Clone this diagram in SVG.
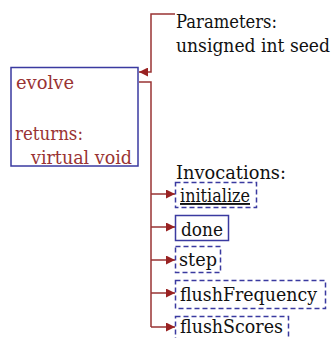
<svg xmlns="http://www.w3.org/2000/svg" width="336" height="338" viewBox="0 0 336 338">
  <style>
    text { font-family: "DejaVu Serif", "Liberation Serif", serif; font-size: 19px; fill: #111; }
    .red { fill: #993333; }
    .box { fill: none; stroke: #3a3aa0; stroke-width: 1.5; }
    .dash { stroke-dasharray: 5 3; }
    .wire { fill: none; stroke: #993333; stroke-width: 1.5; }
  </style>
  <defs>
    <marker id="arrow" viewBox="0 0 10 10" refX="10" refY="5" markerWidth="9" markerHeight="9" markerUnits="userSpaceOnUse" orient="auto">
      <path d="M0,0 L10,5 L0,10 Z" fill="#992222"/>
    </marker>
  </defs>

  <rect width="336" height="338" fill="#ffffff"/>

  <g id="connectors">
    <!-- parameter feed into the function -->
    <path class="wire" d="M175,14 H151 V72 H139" marker-end="url(#arrow)"/>
    <!-- invocation trunk -->
    <path class="wire" d="M139,82 H151 V327"/>
    <path class="wire" d="M151,194 H175" marker-end="url(#arrow)"/>
    <path class="wire" d="M151,227 H175" marker-end="url(#arrow)"/>
    <path class="wire" d="M151,260 H175" marker-end="url(#arrow)"/>
    <path class="wire" d="M151,293 H175" marker-end="url(#arrow)"/>
    <path class="wire" d="M151,327 H175" marker-end="url(#arrow)"/>
  </g>

  <g id="parameters">
    <text x="176" y="27.5" textLength="101" lengthAdjust="spacingAndGlyphs">Parameters:</text>
    <text x="176" y="51.5" textLength="154" lengthAdjust="spacingAndGlyphs">unsigned int seed</text>
  </g>

  <g id="evolve">
    <rect class="box" x="11" y="67.5" width="127" height="98.5"/>
    <text class="red" x="16" y="89" textLength="58" lengthAdjust="spacingAndGlyphs">evolve</text>
    <text class="red" x="15" y="140" textLength="68" lengthAdjust="spacingAndGlyphs">returns:</text>
    <text class="red" x="31" y="164" textLength="101" lengthAdjust="spacingAndGlyphs">virtual void</text>
  </g>

  <g id="invocations">
    <text x="176" y="179" textLength="110" lengthAdjust="spacingAndGlyphs">Invocations:</text>
  </g>

  <g id="initialize">
    <rect class="box dash" x="175.5" y="182.5" width="81" height="25"/>
    <text x="180" y="202" textLength="70" lengthAdjust="spacingAndGlyphs" text-decoration="underline">initialize</text>
  </g>

  <g id="done">
    <rect class="box" x="175.5" y="215.5" width="53" height="25"/>
    <text x="181" y="236" textLength="42" lengthAdjust="spacingAndGlyphs">done</text>
  </g>

  <g id="step">
    <rect class="box dash" x="175.5" y="246.5" width="45" height="26"/>
    <text x="179" y="266" textLength="38" lengthAdjust="spacingAndGlyphs">step</text>
  </g>

  <g id="flushFrequency">
    <rect class="box dash" x="175.5" y="280.5" width="150" height="28"/>
    <text x="180" y="301" textLength="137" lengthAdjust="spacingAndGlyphs">flushFrequency</text>
  </g>

  <g id="flushScores">
    <rect class="box dash" x="175.5" y="316.5" width="113" height="28"/>
    <text x="180" y="333" textLength="103" lengthAdjust="spacingAndGlyphs">flushScores</text>
  </g>
</svg>
